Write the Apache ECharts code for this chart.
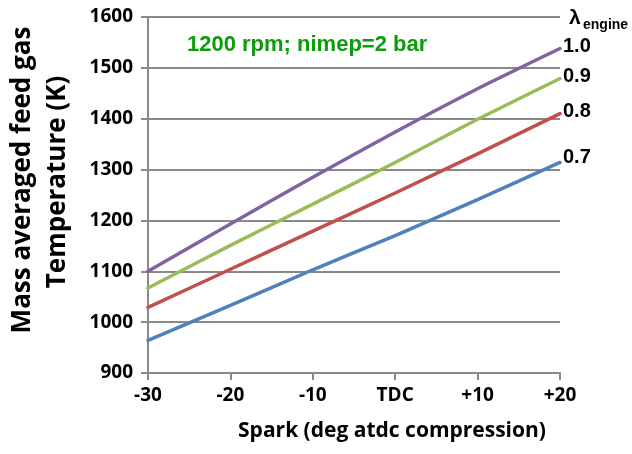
<!DOCTYPE html>
<html>
<head>
<meta charset="utf-8">
<script src="https://cdn.jsdelivr.net/npm/echarts@6/dist/echarts.min.js"></script>
<style>
  html, body { margin: 0; padding: 0; background: #fff; }
  #chart { width: 632px; height: 454px; }
</style>
</head>
<body>
<div id="chart"></div>
<script>
// Spark timing sweep, degrees after TDC
const sparkTiming = [-30, -20, -10, 0, 10, 20];
const xTickLabels = ['-30', '-20', '-10', 'TDC', '+10', '+20'];

// Mass averaged feed gas temperature (K) for each engine lambda
const lambda07 = [964, 1033, 1103, 1170, 1241, 1314];
const lambda08 = [1029, 1104, 1179, 1254, 1331, 1410];
const lambda09 = [1067, 1151, 1232, 1314, 1399, 1479];
const lambda10 = [1100, 1193, 1285, 1374, 1459, 1538];

const seriesNames = ['0.7', '0.8', '0.9', '1.0'];
const seriesColors = ['#4F81BD', '#C0504D', '#9BBB59', '#8064A2'];
const seriesValues = [lambda07, lambda08, lambda09, lambda10];

const labelFont = '"Open Sans", Lato, sans-serif';
const arialFont = '"Liberation Sans", Arial, sans-serif';

const chart = echarts.init(document.getElementById('chart'), null, { renderer: 'canvas' });

const series = seriesValues.map((vals, i) => ({
  name: seriesNames[i],
  type: 'line',
  data: sparkTiming.map((x, j) => [x, vals[j]]),
  smooth: 0.2,
  showSymbol: false,
  symbol: 'none',
  lineStyle: { color: seriesColors[i], width: 3.5, cap: 'round' },
  itemStyle: { color: seriesColors[i] },
  endLabel: {
    show: true,
    formatter: '{a}',
    color: '#000',
    fontFamily: arialFont,
    fontWeight: 'bold',
    fontSize: 20,
    distance: 3,
    offset: i === 0 ? [0, -5] : [0, -2]
  },
  animation: false
}));

chart.setOption({
  animation: false,
  grid: { left: 148, right: 72, top: 17, bottom: 81 },
  xAxis: {
    type: 'value',
    min: -30,
    max: 20,
    interval: 10,
    axisLine: { show: true, onZero: false, lineStyle: { color: '#8a8a8a', width: 2 } },
    axisTick: { show: true, inside: false, length: 7, lineStyle: { color: '#8a8a8a', width: 2 } },
    splitLine: { show: false },
    axisLabel: {
      margin: 13,
      color: '#000',
      fontFamily: labelFont,
      fontWeight: 'bold',
      fontSize: 19,
      formatter: v => xTickLabels[sparkTiming.indexOf(v)]
    },
    name: 'Spark (deg atdc compression)',
    nameLocation: 'middle',
    nameGap: 48,
    nameTextStyle: {
      color: '#000',
      fontFamily: labelFont,
      fontWeight: 'bold',
      fontSize: 21,
      padding: [0, 0, 0, 76]
    }
  },
  yAxis: {
    type: 'value',
    min: 900,
    max: 1600,
    interval: 100,
    axisLine: { show: true, onZero: false, lineStyle: { color: '#8a8a8a', width: 2 } },
    axisTick: { show: true, inside: false, length: 7, lineStyle: { color: '#8a8a8a', width: 2 } },
    splitLine: { show: true, lineStyle: { color: '#8a8a8a', width: 2 } },
    axisLabel: {
      margin: 15,
      color: '#000',
      fontFamily: labelFont,
      fontWeight: 'bold',
      fontSize: 19,
      formatter: v => String(v)
    }
  },
  graphic: [
    {
      type: 'text',
      x: 23, y: 180,
      rotation: Math.PI / 2,
      style: {
        text: 'Mass averaged feed gas',
        fill: '#000',
        font: 'bold 26px ' + labelFont,
        textAlign: 'center',
        textVerticalAlign: 'middle'
      }
    },
    {
      type: 'text',
      x: 58, y: 182,
      rotation: Math.PI / 2,
      style: {
        text: 'Temperature (K)',
        fill: '#000',
        font: 'bold 26px ' + labelFont,
        textAlign: 'center',
        textVerticalAlign: 'middle'
      }
    },
    {
      type: 'text',
      x: 187, y: 45,
      style: {
        text: '1200 rpm; nimep=2 bar',
        fill: '#0c9c0c',
        font: 'bold 22px ' + arialFont,
        textAlign: 'left',
        textVerticalAlign: 'middle'
      }
    },
    {
      type: 'text',
      x: 569, y: 18,
      style: {
        text: 'λ',
        fill: '#000',
        font: 'bold 21px ' + arialFont,
        textAlign: 'left',
        textVerticalAlign: 'middle'
      }
    },
    {
      type: 'text',
      x: 583, y: 25,
      style: {
        text: 'engine',
        fill: '#000',
        font: 'bold 14px ' + arialFont,
        textAlign: 'left',
        textVerticalAlign: 'middle'
      }
    }
  ],
  series: series
});
</script>
</body>
</html>
